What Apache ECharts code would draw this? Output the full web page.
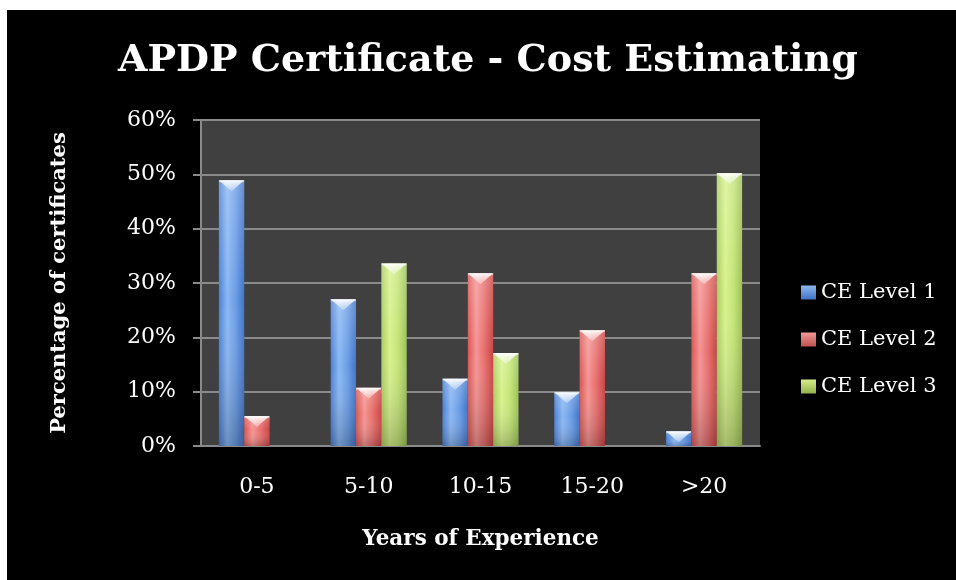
<!DOCTYPE html>
<html>
<head>
<meta charset="utf-8">
<title>APDP Certificate - Cost Estimating</title>
<script src="https://cdn.jsdelivr.net/npm/echarts@6/dist/echarts.min.js"></script>
<style>
  html, body { margin: 0; padding: 0; background: #ffffff; }
  #chart { position: absolute; left: 7px; top: 10px; width: 949px; height: 570px; }
</style>
</head>
<body>
<div id="chart"></div>
<script>
// Share of certificates (%) by years of experience, per CE level
const categories = ['0-5', '5-10', '10-15', '15-20', '>20'];
const levelNames = ['CE Level 1', 'CE Level 2', 'CE Level 3'];
const level1 = [48.9, 27.0, 12.4, 9.9, 2.7];
const level2 = [5.5, 10.7, 31.8, 21.3, 31.8];
const level3 = [0, 33.6, 17.1, 0, 50.2];
const yTicks = [0, 10, 20, 30, 40, 50, 60];

const FONT = 'DejaVu Serif';
const GROUP_FRACTION = 0.68; // share of each category band filled by the three bars

// horizontal shading for the bar bodies
const palettes = [
  { stops: ['#4a80d4', '#8cb8f3', '#6a9de6', '#4273c6'], legend: ['#8fb8ee', '#3f72c4'] },
  { stops: ['#d85654', '#f59593', '#e66e6c', '#c94544'], legend: ['#f29a98', '#c0504d'] },
  { stops: ['#aacd60', '#d9f28d', '#c3e478', '#9dc155'], legend: ['#d6ee8c', '#8fb24c'] }
];

const grad = (x2, y2, colors) => new echarts.graphic.LinearGradient(0, 0, x2, y2,
  colors.map((c, i) => ({ offset: i / (colors.length - 1), color: c })));

function makeRenderer(k) {
  const pal = palettes[k];
  return function (params, api) {
    const v = api.value(1);
    if (!v) return null;
    const top = api.coord([api.value(0), v]);
    const base = api.coord([api.value(0), 0]);
    const band = api.size([1, 0])[0];
    const groupW = band * GROUP_FRACTION;
    const w = groupW / 3;
    const x = top[0] - groupW / 2 + k * w;
    const y = top[1];
    const h = base[1] - top[1];
    const ch = Math.min(11, h);
    return {
      type: 'group',
      children: [
        { type: 'rect', shape: { x: x, y: y, width: w, height: h },
          style: { fill: grad(1, 0, pal.stops) } },
        { type: 'rect', shape: { x: x, y: y, width: w, height: h },
          style: { fill: new echarts.graphic.LinearGradient(0, 0, 0, 1, [
            { offset: 0, color: 'rgba(255,255,255,0.2)' },
            { offset: 0.45, color: 'rgba(255,255,255,0)' },
            { offset: 1, color: 'rgba(0,0,0,0.22)' }]) } },
        { type: 'polygon', shape: { points: [[x, y], [x + w, y], [x + w / 2, y + ch]] },
          style: { fill: new echarts.graphic.LinearGradient(0, 0, 0, 1, [
            { offset: 0, color: 'rgba(255,255,255,0.9)' },
            { offset: 1, color: 'rgba(255,255,255,0.3)' }]) } },
        { type: 'rect', shape: { x: x, y: y, width: w, height: Math.min(2, h) },
          style: { fill: 'rgba(255,255,255,0.45)' } }
      ]
    };
  };
}

const seriesValues = [level1, level2, level3];

const chart = echarts.init(document.getElementById('chart'), null, { renderer: 'canvas' });
chart.setOption({
  backgroundColor: '#000000',
  animation: false,
  textStyle: { fontFamily: FONT },
  title: {
    text: 'APDP Certificate - Cost Estimating',
    left: 106,
    top: 27,
    textStyle: { color: '#ffffff', fontFamily: FONT, fontWeight: 'bold', fontSize: 38 }
  },
  legend: {
    orient: 'vertical',
    left: 789,
    top: 264,
    itemWidth: 15,
    itemHeight: 14,
    itemGap: 20,
    icon: 'rect',
    data: levelNames,
    textStyle: { color: '#ffffff', fontFamily: FONT, fontSize: 21, lineHeight: 27 }
  },
  grid: { left: 194, right: 196, top: 110, bottom: 134, containLabel: false,
    show: true, backgroundColor: '#404040', borderWidth: 0 },
  xAxis: {
    type: 'category',
    data: categories,
    name: 'Years of Experience',
    nameLocation: 'middle',
    nameGap: 82,
    nameTextStyle: { color: '#ffffff', fontFamily: FONT, fontWeight: 'bold', fontSize: 21.5 },
    axisLine: { show: true, lineStyle: { color: '#8a8a8a', width: 2 } },
    axisTick: { show: false },
    axisLabel: { color: '#ffffff', fontFamily: FONT, fontSize: 22, margin: 30 },
    splitLine: { show: false }
  },
  yAxis: {
    type: 'value',
    min: yTicks[0],
    max: yTicks[yTicks.length - 1],
    interval: yTicks[1] - yTicks[0],
    name: 'Percentage of certificates',
    nameLocation: 'middle',
    nameGap: 131,
    nameTextStyle: { color: '#ffffff', fontFamily: FONT, fontWeight: 'bold', fontSize: 21 },
    axisLine: { show: true, lineStyle: { color: '#8a8a8a', width: 2 } },
    axisTick: { show: true, inside: false, length: 8, lineStyle: { color: '#8a8a8a', width: 2 } },
    axisLabel: { color: '#ffffff', fontFamily: FONT, fontSize: 22, margin: 25,
      formatter: '{value}%' },
    splitLine: { show: true, lineStyle: { color: '#8a8a8a', width: 2 } }
  },
  series: seriesValues.map((vals, k) => ({
    name: levelNames[k],
    type: 'custom',
    coordinateSystem: 'cartesian2d',
    encode: { x: 0, y: 1 },
    itemStyle: { color: grad(0, 1, palettes[k].legend) },
    data: vals.map((v, i) => [i, v]),
    renderItem: makeRenderer(k)
  }))
});
</script>
</body>
</html>
